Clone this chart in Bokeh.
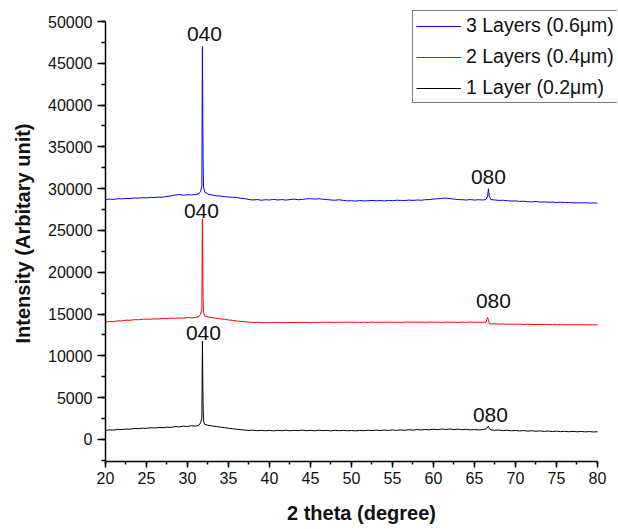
from bokeh.plotting import figure
from bokeh.models import Range1d, SingleIntervalTicker, Legend, LegendItem, Label, ColumnDataSource
from bokeh.embed import file_html
from bokeh.resources import INLINE

# ---------------- data ----------------
two_theta = [
    20, 20.5, 21, 21.5, 22, 22.5, 23, 23.5, 24, 24.5, 25, 25.5, 26, 26.5, 27, 27.5, 28, 28.5, 29, 29.5, 30, 30.5, 31,
    31.4, 31.6, 31.75, 31.82, 31.86, 31.9, 31.95, 32.1,
    32.5, 33, 33.5, 34, 34.5, 35, 35.5, 36, 36.5, 37, 37.5, 38, 38.5, 39, 39.5, 40,
    40.5, 41, 41.5, 42, 42.5, 43, 43.5, 44, 44.5, 45, 45.5, 46, 46.5, 47, 47.5, 48, 48.5, 49, 49.5, 50,
    50.5, 51, 51.5, 52, 52.5, 53, 53.5, 54, 54.5, 55, 55.5, 56, 56.5, 57, 57.5, 58, 58.5, 59, 59.5, 60,
    60.5, 61, 61.5, 62, 62.5, 63, 63.5, 64, 64.5, 65, 65.5, 66,
    66.4, 66.6, 66.7, 66.8,
    67, 67.5, 68, 68.5, 69, 69.5, 70, 70.5, 71, 71.5, 72, 72.5, 73, 73.5, 74, 74.5, 75, 75.5, 76, 76.5, 77, 77.5,
    78, 78.5, 79, 79.5, 80,
]

intensity_3_layers = [
    28700, 28750, 28720, 28800, 28780, 28850, 28820, 28900, 28870, 28930, 28900, 28960, 28940, 29000, 28980, 29080,
    29150, 29250, 29300, 29220, 29280, 29250, 29300,
    29400, 29700, 30300, 47000, 38900, 33500, 30200, 29600,
    29350, 29250, 29150, 29120, 29050, 29000, 28980, 28950, 28850, 28800, 28700, 28650, 28700, 28620, 28680, 28650,
    28720, 28650, 28700, 28640, 28700, 28750, 28680, 28720, 28780, 28820, 28760, 28800, 28740, 28700, 28650, 28620,
    28680, 28600, 28550, 28560,
    28520, 28580, 28540, 28560, 28600, 28550, 28580, 28540, 28600, 28560, 28620, 28600, 28580, 28640, 28600, 28650,
    28620, 28680, 28700, 28760,
    28800, 28850, 28880, 28820, 28760, 28700, 28680, 28650, 28700, 28640, 28680, 28650,
    28700, 29100, 30000, 29100,
    28700, 28650, 28600, 28620, 28560, 28520, 28540, 28480, 28500, 28440, 28420, 28460, 28400, 28420, 28380, 28400,
    28350, 28380, 28340, 28360, 28300, 28330, 28300, 28320, 28280, 28300, 28270,
]

intensity_2_layers = [
    14050, 14120, 14100, 14200, 14180, 14280, 14250, 14340, 14320, 14380, 14400, 14380, 14440, 14420, 14480, 14460,
    14520, 14500, 14540, 14520, 14580, 14560, 14600,
    14700, 15000, 15600, 26400, 20700, 17000, 15200, 14800,
    14650, 14560, 14500, 14420, 14380, 14300, 14250, 14180, 14120, 14080, 14040, 14000, 14020, 13980, 14000, 13970,
    14010, 13980, 14000, 13960, 14000, 13980, 14020, 13990, 14010, 13980, 14020, 14000, 14040, 14010, 14030, 14000,
    14030, 14010, 14040, 14020,
    14030, 14000, 14040, 14010, 14050, 14020, 14040, 14010, 14050, 14020, 14040, 14000, 14050, 14030, 14060, 14030,
    14050, 14020, 14050, 14030,
    14040, 14010, 14050, 14020, 14040, 14010, 14040, 14020, 14050, 14020, 14040, 14030,
    14040, 14600, 14350, 13850,
    13820, 13840, 13800, 13830, 13790, 13810, 13780, 13800, 13760, 13790, 13750, 13770, 13740, 13760, 13730, 13750,
    13720, 13740, 13720, 13730, 13710, 13730, 13720, 13720, 13710, 13720, 13710,
]

intensity_1_layer = [
    1080, 1150, 1120, 1220, 1180, 1260, 1230, 1320, 1290, 1360, 1330, 1400, 1370, 1440, 1410, 1480,
    1450, 1540, 1510, 1600, 1560, 1640, 1600,
    1700, 2000, 2600, 11750, 7450, 4200, 2200, 1800,
    1700, 1620, 1560, 1480, 1420, 1340, 1290, 1220, 1170, 1130, 1080, 1120, 1050, 1100, 1040, 1090,
    1030, 1100, 1050, 1110, 1040, 1090, 1060, 1120, 1050, 1100, 1040, 1110, 1060, 1090, 1030, 1100,
    1050, 1090, 1040, 1080,
    1030, 1090, 1050, 1110, 1060, 1120, 1070, 1130, 1080, 1140, 1090, 1150, 1100, 1170, 1120, 1190,
    1140, 1200, 1160, 1230,
    1180, 1250, 1200, 1260, 1190, 1240, 1170, 1220, 1150, 1200, 1140, 1190,
    1250, 1500, 1620, 1300,
    1150, 1100, 1130, 1060, 1110, 1040, 1080, 1020, 1070, 1000, 1050, 990, 1030, 970, 1010, 950,
    1000, 940, 980, 930, 970, 920, 960, 910, 950, 900, 930,
]

series_names = ["3 Layers (0.6\u03bcm)", "2 Layers (0.4\u03bcm)", "1 Layer (0.2\u03bcm)"]
peak_labels = ["040", "080"]
peak_positions = [31.82, 66.7]

# ---------------- styling ----------------
series_colors = ["#0000ff", "#ff0000", "#000000"]
# per series, per peak: (x_offset px, y_offset px) of the hkl label
label_offsets = [[(2, 13), (0, 12)], [(-1, 8), (5, 16)], [(1, 8), (2, 11)]]
FONT = "Liberation Sans"

X_MIN, X_MAX = 20, 80
Y_MIN, Y_MAX = -2632, 50000

p = figure(width=618, height=529, output_backend="svg", toolbar_location=None,
           min_border_left=105, min_border_right=1, min_border_top=5, min_border_bottom=68,
           x_range=Range1d(X_MIN, 82.44), y_range=Range1d(Y_MIN, 51914))
p.background_fill_color = "white"
p.border_fill_color = "white"
p.outline_line_color = None
p.grid.visible = False

series = [intensity_3_layers, intensity_2_layers, intensity_1_layer]
renderers = []
for vals, col in zip(series, series_colors):
    src = ColumnDataSource(dict(x=two_theta, y=vals))
    r = p.line("x", "y", source=src, line_color=col, line_width=1)
    renderers.append(r)

# hkl labels at peak maxima
for si, vals in enumerate(series):
    for pi, (lab, pos) in enumerate(zip(peak_labels, peak_positions)):
        near = [v for t, v in zip(two_theta, vals) if abs(t - pos) <= 0.3]
        ox, oy = label_offsets[si][pi]
        p.add_layout(Label(x=pos, y=max(near), text=lab, x_offset=ox, y_offset=oy,
                           text_align="center", text_baseline="alphabetic",
                           text_font=FONT, text_font_size="21px", text_color="#111111"))

# axes
p.xaxis.ticker = SingleIntervalTicker(interval=5, num_minor_ticks=2)
p.yaxis.ticker = SingleIntervalTicker(interval=5000, num_minor_ticks=2)
p.xaxis.bounds = (X_MIN, X_MAX)
p.yaxis.bounds = (Y_MIN, Y_MAX)
for ax in (p.xaxis[0], p.yaxis[0]):
    ax.axis_line_color = "black"
    ax.axis_line_width = 1.5
    ax.major_tick_line_color = "black"
    ax.minor_tick_line_color = "black"
    ax.major_tick_line_width = 1.5
    ax.minor_tick_line_width = 1.5
    ax.major_tick_in = 0
    ax.minor_tick_in = 0
    ax.major_label_text_font = FONT
    ax.major_label_text_font_size = "16px"
    ax.major_label_text_color = "#111111"
    ax.axis_label_text_font = FONT
    ax.axis_label_text_font_size = "20px"
    ax.axis_label_text_font_style = "bold"
    ax.axis_label_text_color = "#111111"

p.xaxis.major_tick_out = 6
p.xaxis.minor_tick_out = 3
p.yaxis.major_tick_out = 8
p.yaxis.minor_tick_out = 4
p.xaxis.major_label_standoff = 4
p.yaxis.major_label_standoff = 5
p.xaxis.axis_label = "2 theta (degree)"
p.yaxis.axis_label = "Intensity (Arbitary unit)"
p.xaxis.axis_label_standoff = 15
p.yaxis.axis_label_standoff = 11

legend = Legend(items=[LegendItem(label=n, renderers=[r]) for n, r in zip(series_names, renderers)],
                location=(307, 358))
legend.label_text_font = FONT
legend.label_text_font_size = "19.5px"
legend.label_text_color = "#111111"
legend.border_line_color = "black"
legend.border_line_width = 1
legend.background_fill_color = "white"
legend.background_fill_alpha = 1
legend.glyph_width = 45
legend.glyph_height = 20
legend.label_standoff = 5
legend.padding = 3
legend.spacing = 8
legend.margin = 0
p.add_layout(legend)

open("out.html", "w").write(file_html(p, INLINE))
